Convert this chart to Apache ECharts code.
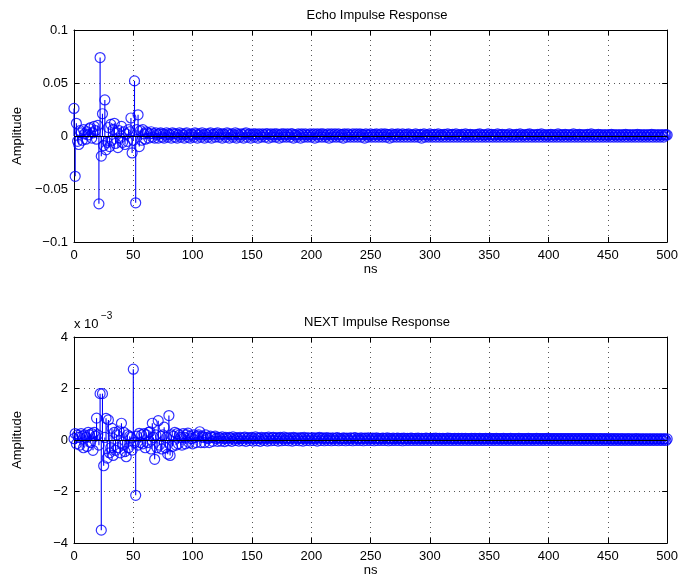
<!DOCTYPE html>
<html>
<head>
<meta charset="UTF-8">
<title>Echo / NEXT Impulse Response</title>
<script src="https://cdn.jsdelivr.net/npm/echarts@6/dist/echarts.min.js"></script>
<style>
  html, body { margin: 0; padding: 0; background: #fff; }
  #chart { width: 681px; height: 580px; }
</style>
</head>
<body>
<div id="chart"></div>
<script>
// sample spacing in ns (sample i sits at i * dt)
var dt = 1;

// echo impulse response, one value per ns (0..500)
var echoAmp = [
  0.026, -0.038, 0.012, -0.005, -0.008, 0.005, 0.003, -0.004, 0.006, 0.002,
  -0.003, 0.004, 0.001, 0.007, 0.008, -0.002, 0.003, 0.009, 0.005, -0.003,
  0.010, -0.064, 0.074, -0.019, 0.021, -0.009, 0.034, -0.013, -0.006, 0.008,
  -0.010, 0.011, -0.004, 0.006, 0.012, -0.007, 0.003, -0.011, 0.005, -0.002,
  0.009, -0.006, 0.004, -0.008, 0.002, -0.005, 0.006, 0.004, 0.017, -0.016,
  -0.004, 0.052, -0.063, 0.006, 0.020, -0.010, 0.005, -0.004, 0.006, 0.002,
  -0.003, 0.004, 0.003, -0.002, 0.002, 0.004, -0.001, 0.002, -0.002, 0.003,
  0.001, -0.002, 0.002, 0.003, -0.001, 0.002, -0.002, 0.001, 0.003, -0.001,
  0.002, 0.001, -0.002, 0.003, 0.002, -0.001, 0.002, -0.002, 0.001, 0.003,
  -0.001, 0.002, 0.001, -0.002, 0.002, 0.003, -0.001, 0.001, -0.002, 0.002,
  0.001, -0.001, 0.003, 0.002, -0.002, 0.001, 0.002, -0.001, 0.003, 0.001,
  -0.002, 0.002, 0.001, -0.001, 0.002, 0.003, -0.002, 0.001, 0.002, -0.001,
  0.002, 0.003, -0.001, 0.001, 0.002, -0.002, 0.002, 0.001, -0.001, 0.003,
  0.002, -0.002, 0.001, 0.002, -0.001, 0.001, 0.003, -0.002, 0.002, 0.001,
  -0.001, 0.002, 0.001, -0.002, 0.002, 0.003, -0.001, 0.001, 0.002, -0.002,
  0.001, 0.002, -0.001, 0.002, 0.001, -0.002, 0.002, 0.001, -0.001, 0.002,
  0.001, -0.001, 0.002, 0.002, -0.002, 0.001, 0.002, -0.001, 0.001, 0.002,
  -0.001, 0.002, 0.001, -0.002, 0.001, 0.002, -0.001, 0.002, 0.001, -0.001,
  0.002, 0.001, -0.001, 0.002, 0.002, -0.002, 0.001, 0.001, -0.001, 0.002,
  0.001, -0.002, 0.002, 0.001, -0.001, 0.002, 0.001, -0.001, 0.001, 0.002,
  -0.001, 0.001, 0.002, -0.002, 0.001, 0.002, -0.001, 0.001, 0.002, -0.001,
  0.002, 0.001, -0.001, 0.001, 0.002, -0.002, 0.001, 0.002, -0.001, 0.001,
  0.002, -0.001, 0.001, 0.002, -0.001, 0.001, 0.0015, -0.002, 0.002, 0.001,
  -0.001, 0.002, 0.001, -0.001, 0.001, 0.002, -0.001, 0.001, 0.002, -0.001,
  0.001, 0.002, -0.001, 0.0015, 0.001, -0.002, 0.002, 0.001, -0.001, 0.001,
  0.002, -0.001, 0.001, 0.0015, -0.001, 0.002, 0.001, -0.001, 0.001, 0.002,
  -0.001, 0.001, 0.002, -0.001, 0.0015, 0.001, -0.002, 0.001, 0.002, -0.001,
  0.001, 0.0015, -0.001, 0.002, 0.001, -0.001, 0.001, 0.002, -0.001, 0.001,
  0.0015, -0.001, 0.002, 0.001, -0.001, 0.001, 0.001, -0.001, 0.002, 0.001,
  -0.001, 0.001, 0.0015, -0.002, 0.001, 0.002, -0.001, 0.001, 0.001, -0.001,
  0.002, 0.001, -0.001, 0.001, 0.0015, -0.001, 0.001, 0.002, -0.001, 0.001,
  0.001, -0.001, 0.0015, 0.001, -0.001, 0.002, 0.001, -0.001, 0.001, 0.0015,
  -0.001, 0.001, 0.002, -0.001, 0.001, 0.001, -0.001, 0.0015, 0.001, -0.001,
  0.002, 0.001, -0.001, 0.001, 0.0015, -0.001, 0.001, 0.001, -0.001, 0.001,
  0.0015, -0.001, 0.002, 0.001, -0.001, 0.001, 0.001, -0.001, 0.001, 0.002,
  -0.001, 0.001, 0.0015, -0.001, 0.001, 0.001, -0.001, 0.002, 0.001, -0.001,
  0.001, 0.0015, -0.001, 0.001, 0.001, -0.001, 0.001, 0.002, -0.001, 0.001,
  0.001, -0.001, 0.001, 0.0015, -0.001, 0.001, 0.002, -0.001, 0.001, 0.001,
  -0.001, 0.001, 0.0015, -0.001, 0.002, 0.001, -0.001, 0.001, 0.001, -0.001,
  0.001, 0.0015, -0.001, 0.001, 0.002, -0.001, 0.001, 0.001, -0.001, 0.001,
  0.001, -0.001, 0.0015, 0.001, -0.001, 0.001, 0.001, -0.001, 0.002, 0.001,
  -0.001, 0.001, 0.001, -0.001, 0.0015, 0.001, -0.001, 0.001, 0.001, -0.001,
  0.001, 0.002, -0.001, 0.001, 0.001, -0.001, 0.0015, 0.001, -0.001, 0.001,
  0.001, -0.001, 0.001, 0.0015, -0.001, 0.001, 0.002, -0.001, 0.001, 0.001,
  -0.001, 0.001, 0.0015, -0.001, 0.001, 0.001, -0.001, 0.001, 0.001, -0.001,
  0.001, 0.001, -0.001, 0.0015, 0.001, -0.001, 0.001, 0.001, -0.001, 0.001,
  0.001, -0.001, 0.001, 0.001, -0.001, 0.0015, 0.001, -0.001, 0.001, 0.001,
  -0.001, 0.001, 0.001, -0.001, 0.001, 0.0015, -0.001, 0.001, 0.001, -0.001,
  0.001, 0.001, -0.001, 0.001, 0.001, -0.001, 0.001, 0.0015, -0.001, 0.001,
  0.001, -0.001, 0.001, 0.001, -0.001, 0.001, 0.001, -0.001, 0.001, 0.001,
  0.001
];

// NEXT impulse response, in units of 1e-3 (axis shows "x 10^-3")
var nextAmp = [
  0.05, 0.25, -0.15, 0.2, 0.1, -0.2, 0.25, 0.15, -0.3, 0.2,
  0.1, -0.25, 0.3, 0.2, -0.1, 0.25, -0.4, 0.3, 0.15, 0.85,
  0.2, -0.2, 1.8, -3.5, 1.8, -1.0, 0.1, 0.84, -0.7, 0.78,
  -0.5, -0.3, 0.45, -0.6, 0.3, -0.4, 0.2, -0.3, 0.35, -0.5,
  0.65, -0.2, 0.3, -0.45, -0.65, 0.2, -0.3, 0.15, 0.1, -0.39,
  2.75, -0.1, -2.15, 0.15, -0.2, 0.26, -0.1, 0.2, -0.15, 0.25,
  -0.3, 0.2, -0.1, 0.3, 0.32, -0.35, 0.65, 0.1, -0.75, 0.2,
  -0.3, 0.75, -0.2, 0.15, -0.35, 0.2, 0.5, -0.3, 0.1, -0.55,
  0.95, -0.6, 0.2, -0.25, 0.15, 0.3, -0.2, 0.25, -0.15, 0.2,
  0.1, -0.2, 0.25, 0.1, -0.15, 0.2, 0.27, -0.1, 0.15, 0.05,
  -0.15, 0.2, 0.1, -0.1, 0.15, 0.2, 0.32, -0.1, 0.15, 0.1,
  -0.1, 0.2, 0.1, 0.05, -0.1, 0.15, 0.1, -0.05, 0.1, 0.15,
  0.05, -0.05, 0.1, 0.08, -0.04, 0.12, 0.05, -0.06, 0.1, 0.06,
  -0.03, 0.1, 0.07, -0.05, 0.12, 0.04, -0.02, 0.09, 0.06, -0.04,
  0.1, 0.05, -0.03, 0.08, 0.11, -0.05, 0.06, 0.09, -0.02, 0.07,
  0.1, -0.04, 0.05, 0.12, -0.03, 0.08, 0.06, -0.05, 0.1, 0.04,
  -0.02, 0.09, 0.07, -0.04, 0.11, 0.05, -0.03, 0.08, 0.1, -0.02,
  0.06, 0.09, -0.04, 0.07, 0.1, -0.03, 0.05, 0.11, -0.02, 0.08,
  0.06, -0.03, 0.09, 0.05, -0.04, 0.1, 0.07, -0.02, 0.08, 0.05,
  -0.03, 0.09, 0.06, -0.04, 0.1, 0.05, -0.02, 0.08, 0.07, -0.03,
  0.06, 0.09, -0.02, 0.05, 0.08, -0.04, 0.07, 0.1, -0.02, 0.06,
  0.08, -0.03, 0.05, 0.09, -0.02, 0.07, 0.06, -0.03, 0.08, 0.05,
  -0.02, 0.07, 0.09, -0.03, 0.06, 0.05, -0.02, 0.08, 0.06, -0.03,
  0.07, 0.05, -0.02, 0.08, 0.06, -0.03, 0.07, 0.09, -0.02, 0.05,
  0.06, -0.02, 0.08, 0.05, -0.03, 0.07, 0.06, -0.02, 0.08, 0.05,
  -0.02, 0.06, 0.07, -0.03, 0.05, 0.08, -0.02, 0.06, 0.05, -0.02,
  0.07, 0.06, -0.02, 0.05, 0.08, -0.03, 0.06, 0.05, -0.02, 0.07,
  0.05, -0.02, 0.06, 0.07, -0.02, 0.05, 0.06, -0.03, 0.07, 0.05,
  -0.02, 0.06, 0.05, -0.02, 0.07, 0.06, -0.02, 0.05, 0.06, -0.02,
  0.07, 0.05, -0.02, 0.06, 0.05, -0.02, 0.06, 0.07, -0.02, 0.05,
  0.06, -0.02, 0.05, 0.06, -0.02, 0.07, 0.05, -0.02, 0.06, 0.05,
  -0.02, 0.06, 0.05, -0.02, 0.05, 0.07, -0.02, 0.06, 0.05, -0.02,
  0.05, 0.06, -0.02, 0.05, 0.06, -0.02, 0.05, 0.06, -0.02, 0.05,
  0.06, -0.02, 0.05, 0.05, -0.02, 0.06, 0.05, -0.02, 0.06, 0.05,
  -0.02, 0.05, 0.06, -0.02, 0.05, 0.05, -0.02, 0.06, 0.05, -0.02,
  0.05, 0.06, -0.02, 0.05, 0.05, -0.02, 0.06, 0.05, -0.02, 0.05,
  0.05, -0.02, 0.06, 0.05, -0.02, 0.05, 0.05, -0.02, 0.06, 0.05,
  -0.02, 0.05, 0.05, -0.02, 0.05, 0.06, -0.02, 0.05, 0.05, -0.02,
  0.05, 0.05, -0.02, 0.06, 0.05, -0.02, 0.05, 0.05, -0.02, 0.05,
  0.06, -0.02, 0.05, 0.05, -0.02, 0.05, 0.05, -0.02, 0.05, 0.06,
  -0.02, 0.05, 0.05, -0.02, 0.05, 0.05, -0.02, 0.05, 0.05, -0.02,
  0.05, 0.05, -0.02, 0.05, 0.05, -0.02, 0.05, 0.05, -0.02, 0.05,
  0.05, -0.02, 0.05, 0.05, -0.02, 0.05, 0.05, -0.02, 0.05, 0.05,
  -0.02, 0.05, 0.05, -0.02, 0.05, 0.05, -0.02, 0.05, 0.05, -0.02,
  0.05, 0.04, -0.02, 0.05, 0.05, -0.02, 0.04, 0.05, -0.02, 0.05,
  0.04, -0.02, 0.05, 0.04, -0.02, 0.05, 0.04, -0.02, 0.05, 0.04,
  -0.02, 0.04, 0.05, -0.02, 0.04, 0.04, -0.02, 0.05, 0.04, -0.02,
  0.04, 0.04, -0.02, 0.04, 0.05, -0.02, 0.04, 0.04, -0.02, 0.04,
  0.04, -0.02, 0.04, 0.04, -0.02, 0.04, 0.04, -0.02, 0.04, 0.04,
  -0.02, 0.04, 0.04, -0.02, 0.04, 0.04, -0.02, 0.04, 0.04, -0.02,
  0.04
];

var titles = ['Echo Impulse Response', 'NEXT Impulse Response'];
var xRange = [0, 500, 50];
var echoRange = [-0.1, 0.1, 0.05];
var nextRange = [-4, 4, 2];

var FONT = 'Liberation Sans, Arial, Helvetica, sans-serif';
var BLUE = '#0000ff';

function pairs(arr) {
  return arr.map(function (v, i) { return [i * dt, v]; });
}

function minusLabel(v) {
  if (v === 0) return '0';
  var s = String(Math.abs(Number(v.toPrecision(6))));
  return (v < 0 ? '\u2212' : '') + s;
}

function xAxes(gi) {
  var base = {
    type: 'value', gridIndex: gi, min: xRange[0], max: xRange[1], interval: xRange[2],
    axisLine: { onZero: false, lineStyle: { color: '#000', width: 1 } },
    axisTick: { inside: true, length: 5, lineStyle: { color: '#000' } }
  };
  return [
    Object.assign({}, base, {
      position: 'bottom',
      name: 'ns', nameLocation: 'middle', nameGap: 21,
      nameTextStyle: { color: '#000', fontSize: 13, fontFamily: FONT },
      axisLabel: { color: '#000', fontSize: 13, fontFamily: FONT, margin: 7 },
      splitLine: { show: true, lineStyle: { type: [1, 4], color: '#555', width: 1 } }
    }),
    Object.assign({}, base, {
      position: 'top', axisLabel: { show: false }, splitLine: { show: false }
    })
  ];
}

function yAxes(gi, r) {
  var base = {
    type: 'value', gridIndex: gi, min: r[0], max: r[1], interval: r[2],
    axisLine: { onZero: false, lineStyle: { color: '#000', width: 1 } },
    axisTick: { inside: true, length: 5, lineStyle: { color: '#000' } }
  };
  return [
    Object.assign({}, base, {
      position: 'left',
      name: 'Amplitude', nameLocation: 'middle', nameGap: 50, nameRotate: 90,
      nameTextStyle: { color: '#000', fontSize: 13, fontFamily: FONT },
      axisLabel: { color: '#000', fontSize: 13, fontFamily: FONT, margin: 6, formatter: minusLabel },
      splitLine: { show: true, lineStyle: { type: [1, 4], color: '#555', width: 1 } }
    }),
    Object.assign({}, base, {
      position: 'right', axisLabel: { show: false }, splitLine: { show: false }
    })
  ];
}

function stemSeries(idx, arr) {
  var data = pairs(arr);
  return [
    {
      type: 'custom', xAxisIndex: idx * 2, yAxisIndex: idx * 2, silent: true,
      data: data,
      renderItem: function (params, api) {
        var t = api.value(0), v = api.value(1);
        var p0 = api.coord([t, 0]);
        var p1 = api.coord([t, v]);
        return {
          type: 'line',
          shape: { x1: p0[0], y1: p0[1], x2: p1[0], y2: p1[1] },
          style: { stroke: BLUE, lineWidth: 1.1 }
        };
      }
    },
    {
      type: 'scatter', xAxisIndex: idx * 2, yAxisIndex: idx * 2, silent: true,
      data: data, symbol: 'circle', symbolSize: 10,
      itemStyle: { color: 'rgba(0,0,0,0)', borderColor: BLUE, borderWidth: 1.2 },
      markLine: {
        silent: true, symbol: 'none', label: { show: false },
        lineStyle: { color: '#000', type: 'solid', width: 1 },
        data: [{ yAxis: 0 }]
      }
    }
  ];
}

var chart = echarts.init(document.getElementById('chart'));
chart.setOption({
  animation: false,
  backgroundColor: '#fff',
  title: [
    { text: titles[0], left: 372, top: 4, textAlign: 'center',
      textStyle: { fontSize: 13, fontWeight: 'normal', color: '#000', fontFamily: FONT } },
    { text: titles[1], left: 372, top: 311, textAlign: 'center',
      textStyle: { fontSize: 13, fontWeight: 'normal', color: '#000', fontFamily: FONT } }
  ],
  graphic: [
    { type: 'text', left: 74, top: 318, style: { text: 'x 10', fill: '#000', font: '13px ' + FONT } },
    { type: 'text', left: 101, top: 311, style: { text: '\u22123', fill: '#000', font: '10px ' + FONT } }
  ],
  grid: [
    { left: 74, right: 11, top: 30, height: 212 },
    { left: 74, right: 11, top: 337, height: 206 }
  ],
  xAxis: xAxes(0).concat(xAxes(1)),
  yAxis: yAxes(0, echoRange).concat(yAxes(1, nextRange)),
  series: stemSeries(0, echoAmp).concat(stemSeries(1, nextAmp))
});
</script>
</body>
</html>
